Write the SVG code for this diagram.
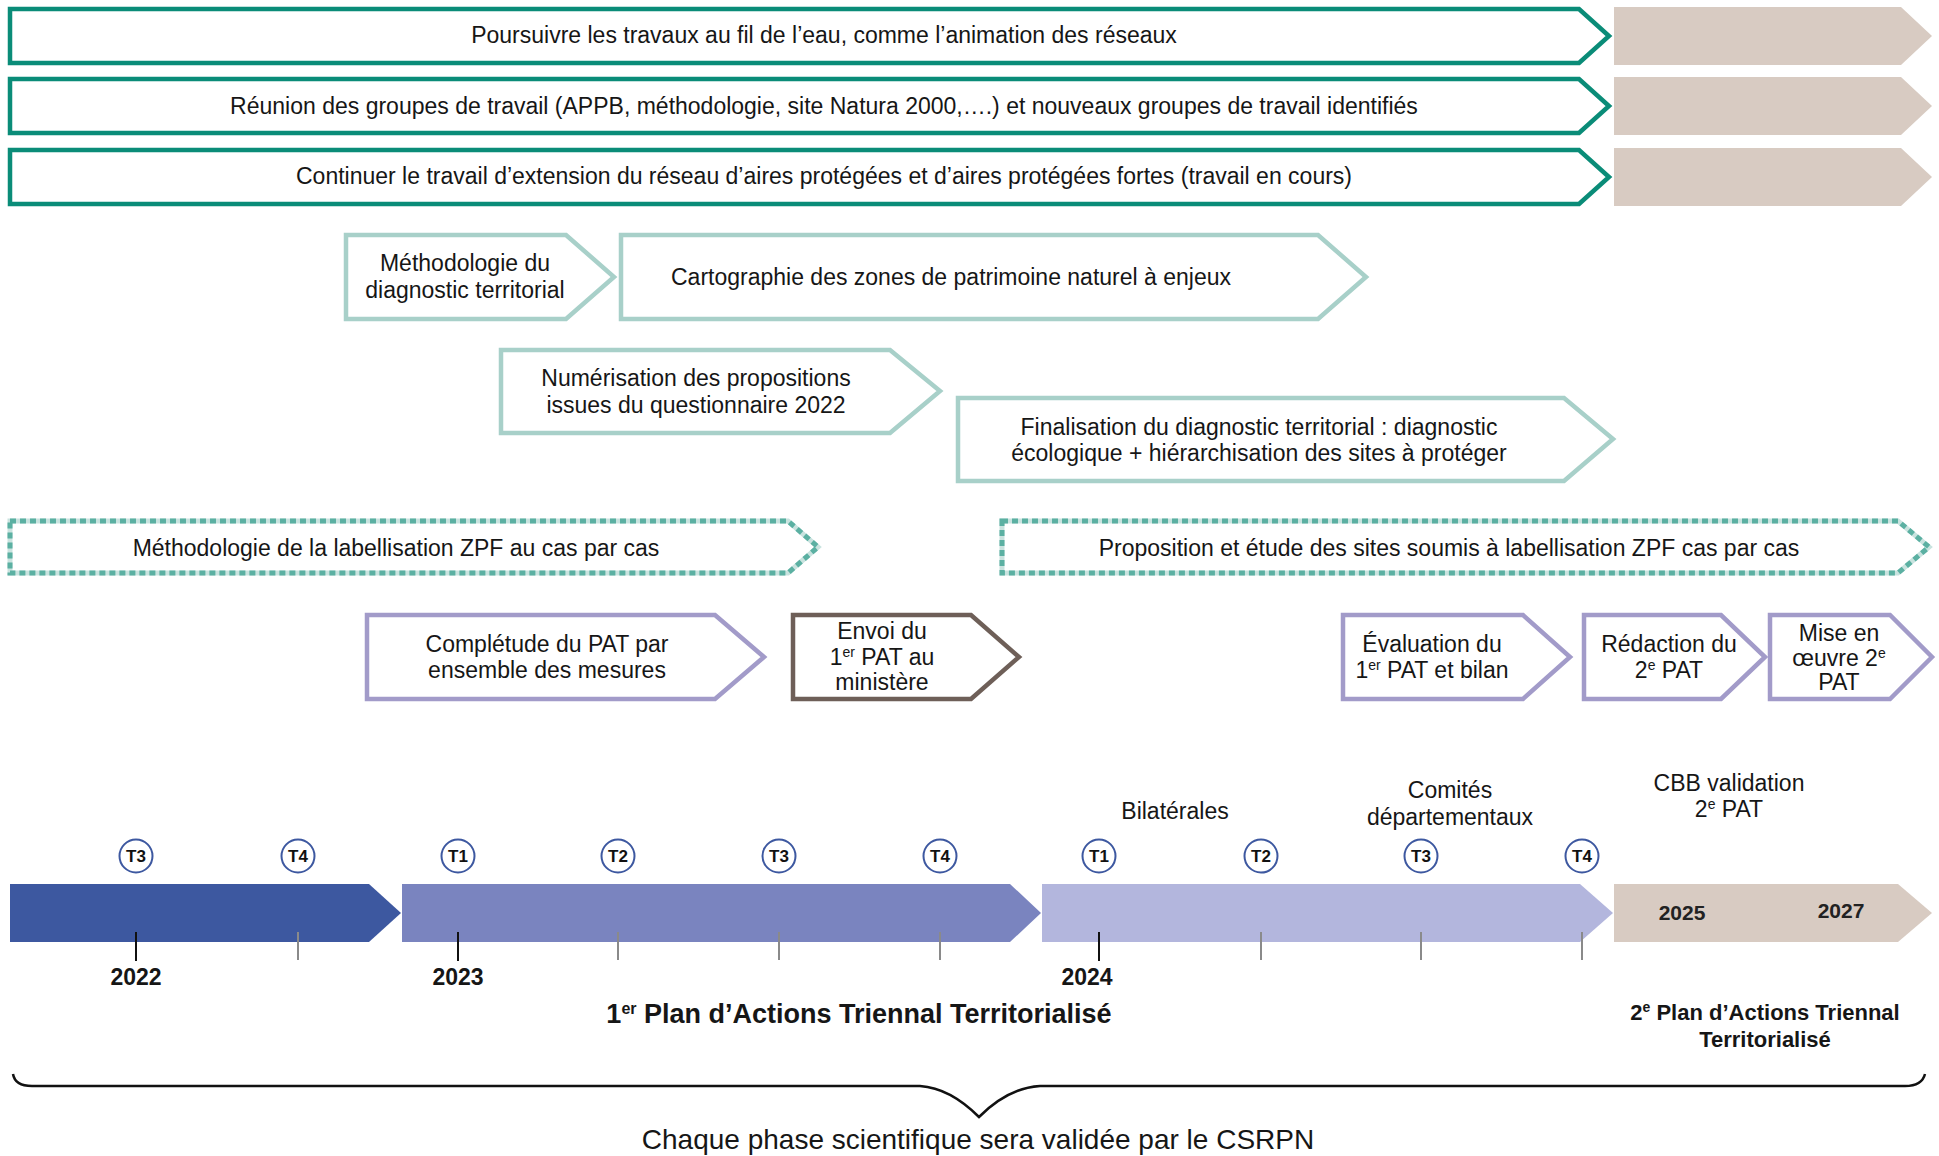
<svg xmlns="http://www.w3.org/2000/svg" width="1939" height="1156" viewBox="0 0 1939 1156">
<style>
.t{font-family:"Liberation Sans",Arial,sans-serif;font-size:23px;fill:#161616;text-anchor:middle}
.b{font-weight:bold}
.teal{fill:#fff;stroke:#0a8c78;stroke-width:4.5;stroke-linejoin:miter}
.lt{fill:#fff;stroke:#a8d0c9;stroke-width:4.5}
.dbase{fill:#fff;stroke:#c9e3df;stroke-width:5}
.dtop{fill:none;stroke:#5bb0a2;stroke-width:5;stroke-dasharray:6 4}
.pur{fill:#fff;stroke:#a29bc9;stroke-width:4.5}
.brn{fill:#fff;stroke:#6e5f58;stroke-width:4.5}
.beige{fill:#d8cbc2}
.tq{fill:#fff;stroke:#3d58a0;stroke-width:2}
.tqt{font-family:"Liberation Sans",Arial,sans-serif;font-size:17px;font-weight:bold;fill:#111;text-anchor:middle}
.tk{stroke:#111;stroke-width:2}
.tg{stroke:#8a8a8a;stroke-width:2}
.sup{font-size:14px}
</style>
<rect width="1939" height="1156" fill="#fff"/>

<g id="row1">
<path class="teal" d="M10,9 H1579 L1609,36 L1579,63 H10 Z"/>
<polygon class="beige" points="1614,7 1901,7 1932,36 1901,65 1614,65"/>
<text class="t" x="824" y="43">Poursuivre les travaux au fil de l’eau, comme l’animation des réseaux</text>
</g>
<g id="row2">
<path class="teal" d="M10,79 H1579 L1609,106 L1579,133 H10 Z"/>
<polygon class="beige" points="1614,77 1901,77 1932,106 1901,135 1614,135"/>
<text class="t" x="824" y="114">Réunion des groupes de travail (APPB, méthodologie, site Natura 2000,….) et nouveaux groupes de travail identifiés</text>
</g>
<g id="row3">
<path class="teal" d="M10,150 H1579 L1609,177 L1579,204 H10 Z"/>
<polygon class="beige" points="1614,148 1901,148 1932,177 1901,206 1614,206"/>
<text class="t" x="824" y="184">Continuer le travail d’extension du réseau d’aires protégées et d’aires protégées fortes (travail en cours)</text>
</g>

<g id="methodo-diag">
<path class="lt" d="M346,235 H566 L614,277 L566,319 H346 Z"/>
<text class="t" x="465" y="271">Méthodologie du</text>
<text class="t" x="465" y="298">diagnostic territorial</text>
</g>
<g id="cartographie">
<path class="lt" d="M621,235 H1318 L1366,277 L1318,319 H621 Z"/>
<text class="t" x="951" y="285">Cartographie des zones de patrimoine naturel à enjeux</text>
</g>
<g id="numerisation">
<path class="lt" d="M501,350 H890 L940,391 L890,433 H501 Z"/>
<text class="t" x="696" y="386">Numérisation des propositions</text>
<text class="t" x="696" y="413">issues du questionnaire 2022</text>
</g>
<g id="finalisation">
<path class="lt" d="M958,398 H1564 L1613,439 L1564,481 H958 Z"/>
<text class="t" x="1259" y="435">Finalisation du diagnostic territorial : diagnostic</text>
<text class="t" x="1259" y="461">écologique + hiérarchisation des sites à protéger</text>
</g>

<g id="methodo-zpf">
<path class="dbase" d="M10,521 H788 L818,547 L788,573 H10 Z"/>
<path class="dtop" d="M10,521 H788 L818,547 L788,573 H10 Z"/>
<text class="t" x="396" y="556">Méthodologie de la labellisation ZPF au cas par cas</text>
</g>
<g id="proposition-zpf">
<path class="dbase" d="M1002,521 H1898 L1929,547 L1898,573 H1002 Z"/>
<path class="dtop" d="M1002,521 H1898 L1929,547 L1898,573 H1002 Z"/>
<text class="t" x="1449" y="556">Proposition et étude des sites soumis à labellisation ZPF cas par cas</text>
</g>

<g id="completude">
<path class="pur" d="M367,615 H715 L764,657 L715,699 H367 Z"/>
<text class="t" x="547" y="652">Complétude du PAT par</text>
<text class="t" x="547" y="678">ensemble des mesures</text>
</g>
<g id="envoi">
<path class="brn" d="M793,615 H971 L1019,657 L971,699 H793 Z"/>
<text class="t" x="882" y="639">Envoi du</text>
<text class="t" x="882" y="665">1<tspan class="sup" dy="-8">er</tspan><tspan dy="8"> PAT au</tspan></text>
<text class="t" x="882" y="690">ministère</text>
</g>
<g id="evaluation">
<path class="pur" d="M1343,615 H1523 L1570,657 L1523,699 H1343 Z"/>
<text class="t" x="1432" y="652">Évaluation du</text>
<text class="t" x="1432" y="678">1<tspan class="sup" dy="-8">er</tspan><tspan dy="8"> PAT et bilan</tspan></text>
</g>
<g id="redaction">
<path class="pur" d="M1584,615 H1721 L1765,657 L1721,699 H1584 Z"/>
<text class="t" x="1669" y="652">Rédaction du</text>
<text class="t" x="1669" y="678">2<tspan class="sup" dy="-8">e</tspan><tspan dy="8"> PAT</tspan></text>
</g>
<g id="mise-en-oeuvre">
<path class="pur" d="M1770,615 H1890 L1932,657 L1890,699 H1770 Z"/>
<text class="t" x="1839" y="641">Mise en</text>
<text class="t" x="1839" y="666">œuvre 2<tspan class="sup" dy="-8">e</tspan></text>
<text class="t" x="1839" y="690">PAT</text>
</g>

<g id="timeline">
<polygon fill="#3d58a0" points="10,884 369,884 401,913 369,942 10,942"/>
<polygon fill="#7a84bf" points="402,884 1010,884 1041,913 1010,942 402,942"/>
<polygon fill="#b3b6dd" points="1042,884 1580,884 1613,913 1580,942 1042,942"/>
<polygon class="beige" points="1614,884 1898,884 1932,913 1898,942 1614,942"/>
<line class="tk" x1="136" y1="932" x2="136" y2="961"/>
<line class="tg" x1="298" y1="932" x2="298" y2="960"/>
<line class="tk" x1="458" y1="932" x2="458" y2="961"/>
<line class="tg" x1="618" y1="932" x2="618" y2="960"/>
<line class="tg" x1="779" y1="932" x2="779" y2="960"/>
<line class="tg" x1="940" y1="932" x2="940" y2="960"/>
<line class="tk" x1="1099" y1="932" x2="1099" y2="961"/>
<line class="tg" x1="1261" y1="932" x2="1261" y2="960"/>
<line class="tg" x1="1421" y1="932" x2="1421" y2="960"/>
<line class="tg" x1="1582" y1="932" x2="1582" y2="960"/>
<text class="t b" x="1682" y="920" style="font-size:21px;fill:#222">2025</text>
<text class="t b" x="1841" y="918" style="font-size:21px;fill:#222">2027</text>
<text class="t b" x="136" y="985">2022</text>
<text class="t b" x="458" y="985">2023</text>
<text class="t b" x="1087" y="985">2024</text>
</g>

<g id="quarters">
<circle class="tq" cx="136" cy="856" r="16.5"/><text class="tqt" x="136" y="862">T3</text>
<circle class="tq" cx="298" cy="856" r="16.5"/><text class="tqt" x="298" y="862">T4</text>
<circle class="tq" cx="458" cy="856" r="16.5"/><text class="tqt" x="458" y="862">T1</text>
<circle class="tq" cx="618" cy="856" r="16.5"/><text class="tqt" x="618" y="862">T2</text>
<circle class="tq" cx="779" cy="856" r="16.5"/><text class="tqt" x="779" y="862">T3</text>
<circle class="tq" cx="940" cy="856" r="16.5"/><text class="tqt" x="940" y="862">T4</text>
<circle class="tq" cx="1099" cy="856" r="16.5"/><text class="tqt" x="1099" y="862">T1</text>
<circle class="tq" cx="1261" cy="856" r="16.5"/><text class="tqt" x="1261" y="862">T2</text>
<circle class="tq" cx="1421" cy="856" r="16.5"/><text class="tqt" x="1421" y="862">T3</text>
<circle class="tq" cx="1582" cy="856" r="16.5"/><text class="tqt" x="1582" y="862">T4</text>
</g>

<g id="events">
<text class="t" x="1175" y="819">Bilatérales</text>
<text class="t" x="1450" y="798">Comités</text>
<text class="t" x="1450" y="825">départementaux</text>
<text class="t" x="1729" y="791">CBB validation</text>
<text class="t" x="1729" y="817">2<tspan class="sup" dy="-8">e</tspan><tspan dy="8"> PAT</tspan></text>
</g>

<g id="plans">
<text class="t b" x="859" y="1023" style="font-size:27px">1<tspan style="font-size:16px" dy="-9">er</tspan><tspan dy="9"> Plan d’Actions Triennal Territorialisé</tspan></text>
<text class="t b" x="1765" y="1020" style="font-size:22px">2<tspan class="sup" dy="-8">e</tspan><tspan dy="8"> Plan d’Actions Triennal</tspan></text>
<text class="t b" x="1765" y="1047" style="font-size:22px">Territorialisé</text>
</g>

<g id="connectors">
<path d="M13,1074 Q15,1086 32,1086 L920,1086 Q950,1088 979,1117 Q1008,1088 1040,1086 L1905,1086 Q1922,1086 1925,1074" fill="none" stroke="#111" stroke-width="2.5"/>
</g>
<g id="csrpn">
<text class="t" x="978" y="1149" style="font-size:28px">Chaque phase scientifique sera validée par le CSRPN</text>
</g>
</svg>
